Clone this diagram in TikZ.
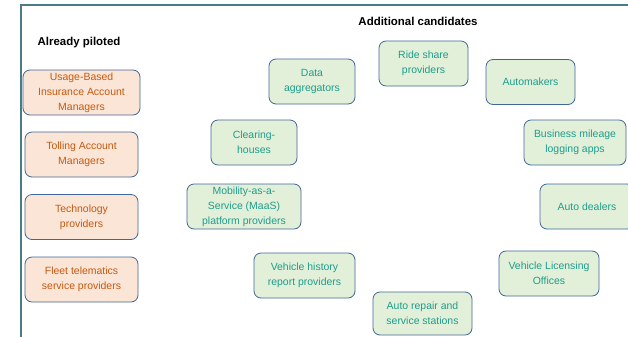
\documentclass[tikz,border=0pt]{standalone}
\usepackage{fontspec}
\setmainfont{Liberation Sans}
\usetikzlibrary{positioning}
\definecolor{Frame}{HTML}{4A7C85}
\definecolor{Edge}{HTML}{41669A}
\definecolor{Peach}{HTML}{FBE5D6}
\definecolor{Rust}{HTML}{C55A11}
\definecolor{Sage}{HTML}{E2F0D9}
\definecolor{Jade}{HTML}{1E9C8C}
\tikzset{
  tagbox/.style={draw=Edge,line width=0.8bp,rounded corners=7bp,inner sep=0pt,
    minimum height=45bp,align=center,font=\fontsize{10.5}{15}\selectfont},
  pilotbox/.style={tagbox,fill=Peach,text=Rust},
  candbox/.style={tagbox,fill=Sage,text=Jade},
  heading/.style={font=\fontsize{11.5}{14}\selectfont\bfseries}
}

\begin{document}
\begin{tikzpicture}[x=1bp,y=-1bp]
    \clip (0,0) rectangle (628,336);
    \fill[white] (0,0) rectangle (628,336);
    \draw[line width=2bp,Frame] (21,340)--(21,5)--(632,5);
    % left column: already piloted
    \node[heading] (piloted) at (79,43) {Already piloted};
    \node[pilotbox,minimum width=117bp] (ubi) at (81.5,92.5) {Usage-Based\\Insurance Account\\Managers};
    \node[pilotbox,minimum width=113bp] (tolling) at (81.5,154.5) {Tolling Account\\Managers};
    \node[pilotbox,minimum width=113bp] (tech) at (81.5,217) {Technology\\providers};
    \node[pilotbox,minimum width=113bp] (fleet) at (81.5,279.5) {Fleet telematics\\service providers};
    % ring of additional candidates
    \node[heading] (additional) at (418,21) {Additional candidates};
    \node[candbox,minimum width=86bp] (data) at (312,81.5) {Data\\aggregators};
    \node[candbox,minimum width=89bp] (ride) at (423.5,63.5) {Ride share\\providers};
    \node[candbox,minimum width=89bp] (automakers) at (530.5,82) {Automakers};
    \node[candbox,minimum width=86bp] (clearing) at (254,142.5) {Clearing-\\houses};
    \node[candbox,minimum width=114bp] (maas) at (244,206.5) {Mobility-as-a-\\Service (MaaS)\\platform providers};
    \node[candbox,minimum width=102bp] (mileage) at (575,142.5) {Business mileage\\logging apps};
    \node[candbox,minimum width=94bp] (dealers) at (587,206.5) {Auto dealers};
    \node[candbox,minimum width=101bp] (history) at (304.5,275.5) {Vehicle history\\report providers};
    \node[candbox,minimum width=100bp] (licensing) at (549,273.5) {Vehicle Licensing\\Offices};
    \node[candbox,minimum width=99bp,minimum height=43bp] (repair) at (422.5,313.5) {Auto repair and\\service stations};
  \end{tikzpicture}
\end{document}
